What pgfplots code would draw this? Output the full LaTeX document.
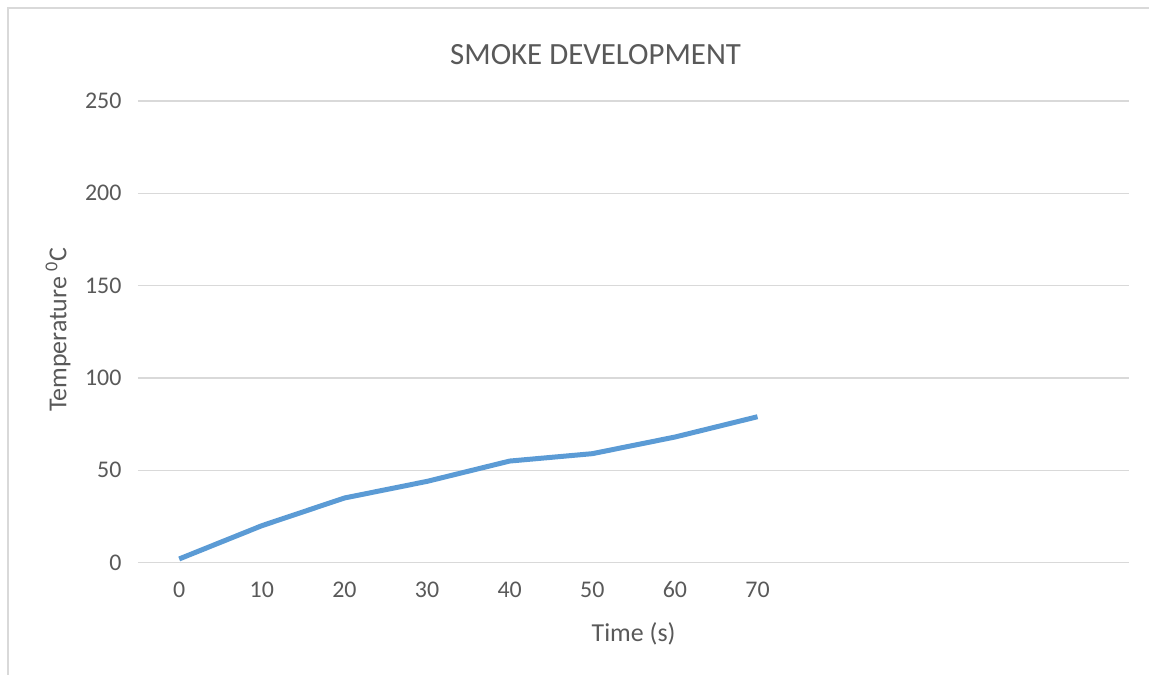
\documentclass[border=0pt]{standalone}
\usepackage{fontspec}
\setmainfont{Carlito}
\usepackage{pgfplots}
\pgfplotsset{compat=1.18}
\definecolor{txt}{HTML}{595959}
\definecolor{gridc}{HTML}{D9D9D9}
\definecolor{ser}{HTML}{5B9BD5}
\begin{document}
\begin{tikzpicture}
\path (0,0) rectangle (1150bp,675bp);
\draw[gridc,line width=1.5bp] (8bp,0) -- (8bp,667bp) -- (1150bp,667bp);
\node[txt,font=\fontsize{31}{36}\selectfont] at (596bp,620bp) {SMOKE DEVELOPMENT};
\begin{axis}[
  at={(138bp,112bp)}, anchor=south west,
  scale only axis, width=992bp, height=462bp,
  xmin=-0.5, xmax=11.5, ymin=0, ymax=250,
  xtick={0,1,2,3,4,5,6,7},
  xticklabels={0,10,20,30,40,50,60,70},
  ytick={0,50,100,150,200,250},
  axis line style={draw=none},
  major tick length=0pt,
  xmajorgrids=false, ymajorgrids=true,
  grid style={draw=gridc,line width=1.3bp},
  tick label style={txt,font=\fontsize{24}{28}\selectfont},
  /pgf/number format/assume math mode=true,
  xticklabel style={yshift=-15bp,text height=16bp,text depth=0bp,anchor=north},
  yticklabel style={xshift=-13bp},
  clip=false,
]
\addplot[ser,line width=5bp] coordinates {
 (0,2) (1,20) (2,35) (3,44) (4,55) (5,59) (6,68) (7,79)
};
\end{axis}
\node[txt,font=\fontsize{26}{30}\selectfont] at (634bp,41bp) {Time (s)};
\node[txt,font=\fontsize{26}{30}\selectfont,rotate=90] at (58bp,345bp) {Temperature \textsuperscript{0}C};
\end{tikzpicture}
\end{document}
